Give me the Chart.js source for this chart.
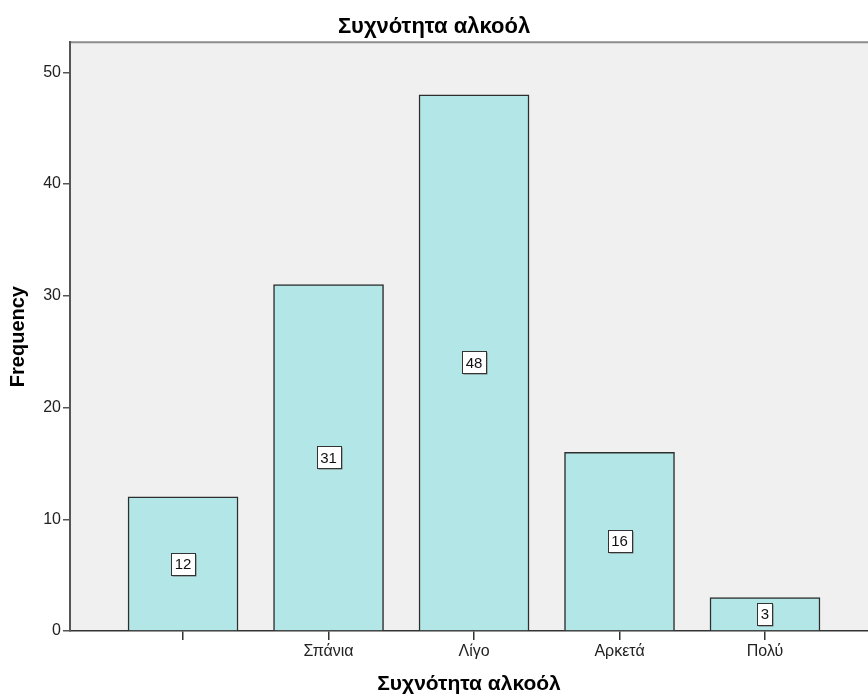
<!DOCTYPE html>
<html>
<head>
<meta charset="utf-8">
<script src="https://cdn.jsdelivr.net/npm/chart.js@4/dist/chart.umd.min.js"></script>
<style>
  html, body { margin: 0; padding: 0; background: #fff; overflow: hidden; }
</style>
</head>
<body>
<canvas id="freqChart" width="868" height="695"></canvas>
<script>
// ---- data ----
const categories = ["", "Σπάνια", "Λίγο", "Αρκετά", "Πολύ"];
const frequencies = [12, 31, 48, 16, 3];
const yTicks = [0, 10, 20, 30, 40, 50];
const chartTitle = "Συχνότητα αλκοόλ";
const yTitle = "Frequency";

const FONT = "Arial, 'Liberation Sans', sans-serif";

// grey plot background + top frame line
const plotFrame = {
  id: "plotFrame",
  beforeDraw(chart) {
    const { ctx, chartArea: a } = chart;
    ctx.save();
    ctx.fillStyle = "#f0f0f0";
    ctx.fillRect(a.left, a.top, a.right - a.left, a.bottom - a.top);
    ctx.strokeStyle = "#8c8c8c";
    ctx.lineWidth = 2;
    ctx.beginPath();
    ctx.moveTo(a.left, a.top);
    ctx.lineTo(a.right, a.top);
    ctx.stroke();
    ctx.restore();
  }
};

// boxed count in the middle of each bar
const valueBoxes = {
  id: "valueBoxes",
  afterDatasetsDraw(chart) {
    const { ctx } = chart;
    const meta = chart.getDatasetMeta(0);
    ctx.save();
    ctx.font = "15px " + FONT;
    ctx.textAlign = "center";
    ctx.textBaseline = "middle";
    meta.data.forEach((bar, i) => {
      const txt = String(frequencies[i]);
      const cx = bar.x;
      const cy = (bar.y + bar.base) / 2;
      const w = Math.round(ctx.measureText(txt).width + 7);
      const h = 22;
      const x0 = Math.round(cx - w / 2) + 0.5;
      const y0 = Math.round(cy - h / 2) + 0.5;
      ctx.fillStyle = "#777";
      ctx.fillRect(x0 + 1, y0 + 1, w, h);
      ctx.fillStyle = "#fff";
      ctx.fillRect(x0, y0, w, h);
      ctx.strokeStyle = "#333";
      ctx.lineWidth = 1;
      ctx.strokeRect(x0, y0, w, h);
      ctx.fillStyle = "#111";
      ctx.fillText(txt, cx, cy + 1);
    });
    ctx.restore();
  }
};

new Chart(document.getElementById("freqChart"), {
  type: "bar",
  data: {
    datasets: [{
      data: frequencies.map((v, i) => ({ x: i + 1, y: v })),
      backgroundColor: "#b3e6e6",
      borderColor: "#2e2e2e",
      borderWidth: 1.5,
      barThickness: 110
    }]
  },
  options: {
    responsive: false,
    animation: false,
    layout: { padding: 0 },
    plugins: {
      legend: { display: false },
      tooltip: { enabled: false },
      title: {
        display: true,
        text: chartTitle,
        color: "#000",
        font: { family: FONT, size: 22, weight: "bold", lineHeight: 1.1 },
        padding: { top: 15, bottom: 3 }
      }
    },
    scales: {
      x: {
        type: "linear",
        min: 0.223,
        max: 5.708,
        offset: false,
        afterBuildTicks: (scale) => {
          scale.ticks = categories.map((c, i) => ({ value: i + 1 }));
        },
        afterFit: (scale) => { scale.height = 64; },
        ticks: {
          autoSkip: false,
          maxRotation: 0,
          color: "#222",
          padding: 2,
          font: { family: FONT, size: 16 },
          callback: (v) => categories[v - 1]
        },
        grid: {
          offset: false,
          drawOnChartArea: false,
          drawTicks: true,
          tickLength: 9,
          color: "#333",
          lineWidth: 1.5
        },
        border: { display: true, color: "#333", width: 1.5 },
        title: {
          display: true,
          text: chartTitle,
          color: "#000",
          font: { family: FONT, size: 21, weight: "bold", lineHeight: 1 },
          padding: { top: 0, bottom: 0.5 }
        }
      },
      y: {
        min: 0,
        max: 52.7,
        afterBuildTicks: (scale) => {
          scale.ticks = yTicks.map((v) => ({ value: v }));
        },
        afterFit: (scale) => { scale.width = 70; },
        ticks: {
          color: "#222",
          padding: 2,
          font: { family: FONT, size: 16 }
        },
        grid: {
          drawOnChartArea: false,
          drawTicks: true,
          tickLength: 7,
          color: "#555",
          lineWidth: 1.5
        },
        border: { display: true, color: "#555", width: 2 },
        title: {
          display: true,
          text: yTitle,
          color: "#000",
          font: { family: FONT, size: 20, weight: "bold", lineHeight: 1.2 },
          padding: { top: 6, bottom: 2 }
        }
      }
    }
  },
  plugins: [plotFrame, valueBoxes]
});
</script>
</body>
</html>
